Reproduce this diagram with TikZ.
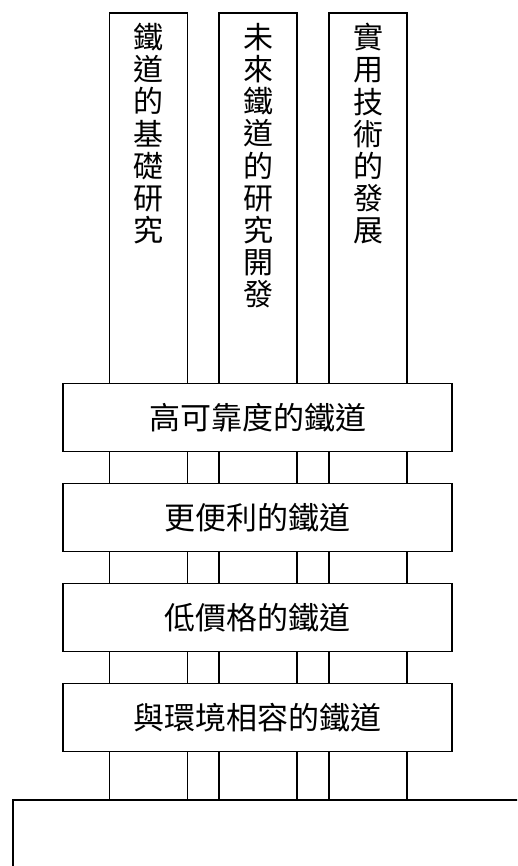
\documentclass[tikz,border=0pt]{standalone}
\usepackage{fontspec}
\newfontfamily\cjk{Noto Sans CJK TC}
\begin{document}
\begin{tikzpicture}[x=1pt,y=-1pt,
  frame/.style={draw=black,line width=1.6pt},
  colbox/.style={frame,minimum width=78pt,minimum height=787pt,anchor=north,inner sep=0pt},
  levelbox/.style={frame,fill=white,minimum width=389pt,minimum height=68pt,inner sep=0pt,font=\cjk\fontsize{31}{32}\selectfont},
  vtext/.style={anchor=north,align=center,inner sep=0pt,font=\cjk\fontsize{30}{32.2}\selectfont}]
\useasboundingbox (0,0) rectangle (517,866);
\clip (0,0) rectangle (517,866);
% columns
\node[colbox] (c1) at (148.5,12) {};
\node[colbox] (c2) at (258,12) {};
\node[colbox] (c3) at (368,12) {};
\node[vtext] (t1) at (148.5,23) {鐵\\道\\的\\基\\礎\\研\\究};
\node[vtext] (t2) at (258,23) {未\\來\\鐵\\道\\的\\研\\究\\開\\發};
\node[vtext] (t3) at (368,23) {實\\用\\技\\術\\的\\發\\展};
% level boxes
\node[levelbox] (b1) at (257.5,417.5) {高可靠度的鐵道};
\node[levelbox] (b2) at (257.5,517.5) {更便利的鐵道};
\node[levelbox] (b3) at (257.5,617.5) {低價格的鐵道};
\node[levelbox] (b4) at (257.5,717.5) {與環境相容的鐵道};
% base
\node[frame,fill=white,minimum width=530pt,minimum height=100pt,anchor=north west,inner sep=0pt] (base) at (12,799) {};
\end{tikzpicture}
\end{document}
